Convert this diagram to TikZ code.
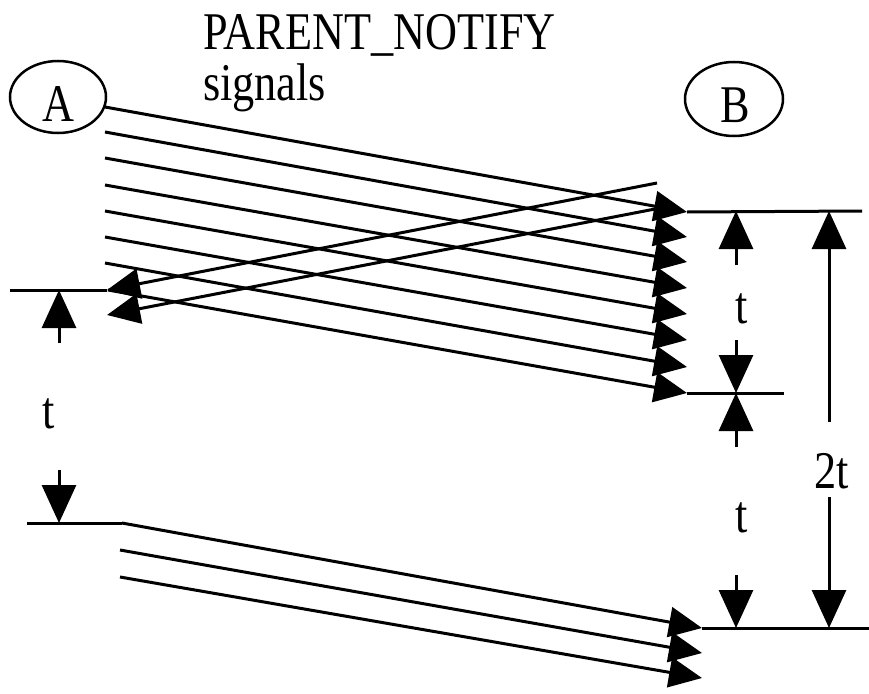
\documentclass[tikz,border=0pt]{standalone}
\usepackage{fontspec}
\newfontfamily\diagfont[FakeStretch=0.835]{Liberation Serif}
\usetikzlibrary{arrows.meta,shapes.geometric}
\tikzset{
  sig/.style={line width=3pt,-{Triangle[length=33pt,width=30pt]}},
  timeline/.style={line width=3pt},
  dim/.style={line width=3pt,-{Triangle[length=38pt,width=34pt]}},
  proc/.style={ellipse,draw,line width=2.5pt,inner sep=0pt},
  txt/.style={inner sep=0pt,font=\diagfont\fontsize{53pt}{60pt}\selectfont},
}
\begin{document}
\begin{tikzpicture}[x=1pt,y=-1pt]
\useasboundingbox (0,0) rectangle (869,693);
% processes
\node[proc,minimum width=96pt,minimum height=72pt] (A) at (58,97) {};
\node[txt] (Alab) at (58,104.5) {A};
\node[proc,minimum width=98pt,minimum height=74pt] (B) at (734,99) {};
\node[txt] (Blab) at (735,105) {B};
\node[txt,anchor=base west] (title1) at (203,50) {PARENT\_NOTIFY};
\node[txt,anchor=base west] (title2) at (203,100) {signals};
% signal start / end points
\foreach \i/\ys/\ye in {1/107/212,2/132/237,3/158/262,4/185/288,5/211/314,6/237/340,7/263/367}{
  \coordinate (s\i) at (105,\ys);
  \coordinate (e\i) at (687,\ye);
}
\coordinate (s8) at (108,290);
\coordinate (e8) at (687,393);
\foreach \i in {1,...,8}{ \draw[sig] (s\i) -- (e\i); }
% return signals
\coordinate (r1) at (657,183);
\coordinate (q1) at (107,290);
\coordinate (r2) at (655,209);
\coordinate (q2) at (107,315);
\draw[sig] (r1) -- (q1);
\draw[sig] (r2) -- (q2);
% bottom signals
\coordinate (b1) at (122,523); \coordinate (c1) at (702,628);
\coordinate (b2) at (120,550); \coordinate (c2) at (702,653);
\coordinate (b3) at (120,577); \coordinate (c3) at (702,678);
\foreach \i in {1,2,3}{ \draw[sig] (b\i) -- (c\i); }
% time marks
\coordinate (mA1) at (10,290);
\coordinate (mA2) at (27,523);
\coordinate (mB1) at (862,211);
\coordinate (mB2) at (784,393);
\coordinate (mB3) at (869,628);
\draw[timeline] (mA1) -- (q1);
\draw[timeline] (mA2) -- (b1);
\draw[timeline] (e1) -- (mB1);
\draw[timeline] (e8) -- (mB2);
\draw[timeline] (c1) -- (mB3);
% dimension on A side
\coordinate (dA1) at (59,290); \coordinate (dA1s) at (59,343);
\coordinate (dA2) at (59,523); \coordinate (dA2s) at (59,470);
\draw[dim] (dA1s) -- (dA1);
\draw[dim] (dA2s) -- (dA2);
\node[txt,anchor=base] (tA) at (49,428) {t};
% inner dimensions on B side
\coordinate (dB1) at (736,211); \coordinate (dB1s) at (736,265);
\coordinate (dB2) at (736,393); \coordinate (dB2s) at (736,340);
\coordinate (dB3) at (736,393); \coordinate (dB3s) at (736,447);
\coordinate (dB4) at (736,628); \coordinate (dB4s) at (736,575);
\draw[dim] (dB1s) -- (dB1);
\draw[dim] (dB2s) -- (dB2);
\draw[dim] (dB3s) -- (dB3);
\draw[dim] (dB4s) -- (dB4);
\node[txt,anchor=base] (tB1) at (742,323) {t};
\node[txt,anchor=base] (tB2) at (742,532) {t};
% outer dimension
\coordinate (dC1) at (829,211); \coordinate (dC1s) at (829,422);
\coordinate (dC2) at (829,628); \coordinate (dC2s) at (829,497);
\draw[dim] (dC1s) -- (dC1);
\draw[dim] (dC2s) -- (dC2);
\node[txt,anchor=base] (t2) at (832,488) {2t};
\end{tikzpicture}
\end{document}
